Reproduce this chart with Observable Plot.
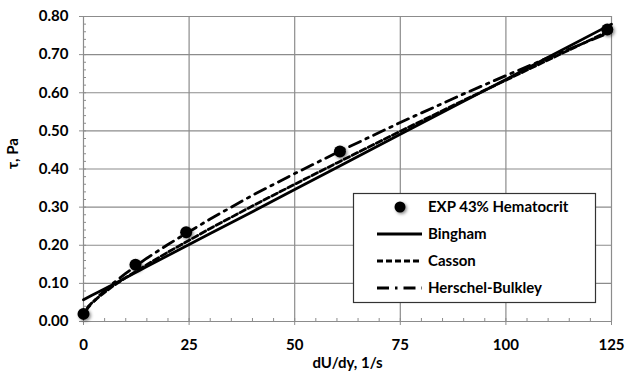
<!DOCTYPE html>
<html><head><meta charset="utf-8">
<script src="https://cdn.jsdelivr.net/npm/d3@7"></script>
<script src="https://cdn.jsdelivr.net/npm/@observablehq/plot@0.6"></script>
<style>body{margin:0;background:#fff} svg{font-family:Lato,sans-serif}</style>
</head><body><div id="chart"></div>
<script>
const expShear  = [0, 12.3, 24.3, 60.7, 124];
const expStress = [0.02, 0.149, 0.234, 0.446, 0.766];
// Model curves
const modelShear    = [0, 1, 2, 4, 7, 10, 15, 20, 30, 40, 50, 60, 75, 90, 100, 110, 125];
const binghamStress = [0.057, 0.063, 0.069, 0.080, 0.097, 0.115, 0.144, 0.173, 0.231, 0.288, 0.346, 0.404, 0.491, 0.578, 0.635, 0.693, 0.780];
const cassonStress  = [0.016, 0.038, 0.049, 0.068, 0.093, 0.115, 0.149, 0.182, 0.244, 0.303, 0.360, 0.416, 0.499, 0.580, 0.633, 0.686, 0.765];
const hbStress      = [0.015, 0.035, 0.048, 0.071, 0.100, 0.126, 0.166, 0.202, 0.269, 0.331, 0.388, 0.443, 0.522, 0.597, 0.645, 0.692, 0.760];
// Ticks
const xTicks = [0, 25, 50, 75, 100, 125];
const xMinor = d3.range(0, 126, 5);
const yTicks = [0, 0.1, 0.2, 0.3, 0.4, 0.5, 0.6, 0.7, 0.8];
const yMinor = d3.range(0, 41).map(i => i * 0.02);
const legendItems = ["EXP 43% Hematocrit", "Bingham", "Casson", "Herschel-Bulkley"];

const expData = expShear.map((x, i) => ({x, y: expStress[i]}));
const mk = arr => modelShear.map((x, i) => ({x, y: arr[i]}));
const grid = "#8c8c8c";
const FS = 15;

const plot = Plot.plot({
  width: 625, height: 383,
  marginLeft: 83, marginRight: 14, marginTop: 16, marginBottom: 62,
  x: {domain: [0, 125]},
  y: {domain: [0, 0.8]},
  style: {fontFamily: "Lato, sans-serif", fontWeight: "bold", fontSize: FS + "px", color: "#000", background: "#fff"},
  marks: [
    Plot.gridY(yTicks.slice(1), {stroke: grid, strokeOpacity: 1, strokeWidth: 1.2}),
    Plot.gridX(xTicks.slice(1), {stroke: grid, strokeOpacity: 1, strokeWidth: 1.2}),
    Plot.ruleX([0], {stroke: grid, strokeWidth: 1.2}),
    Plot.ruleY([0], {stroke: grid, strokeWidth: 1.2}),
    Plot.axisY(yTicks, {anchor: "left", tickSize: 4, tickPadding: 11, tickFormat: d3.format(".2f"), label: null, stroke: grid, fill: "#000", fontSize: FS}),
    Plot.axisY(yMinor, {anchor: "left", tickSize: -3, tickFormat: () => "", label: null, stroke: grid}),
    Plot.axisX(xTicks, {anchor: "bottom", tickSize: 4, tickPadding: 14, tickFormat: d => d, label: null, stroke: grid, fill: "#000", fontSize: FS}),
    Plot.axisX(xMinor, {anchor: "bottom", tickSize: -3, tickFormat: () => "", label: null, stroke: grid}),
    Plot.text(["τ, Pa"], {frameAnchor: "left", rotate: -90, dx: -70, fontSize: FS, fontWeight: "bold"}),
    Plot.text(["dU/dy, 1/s"], {frameAnchor: "bottom", dy: 46, fontSize: FS, fontWeight: "bold"}),
    Plot.line(mk(binghamStress), {x: "x", y: "y", stroke: "#000", strokeWidth: 2.8}),
    Plot.line(mk(cassonStress), {x: "x", y: "y", stroke: "#000", strokeWidth: 2.8, strokeDasharray: "6,3"}),
    Plot.line(mk(hbStress), {x: "x", y: "y", stroke: "#000", strokeWidth: 2.8, strokeDasharray: "12,6,2.5,6"}),
    Plot.dot(expData, {x: "x", y: "y", r: 6, fill: "#000", stroke: "none"})
  ]
});
document.getElementById("chart").appendChild(plot);

const svg = d3.select(plot);
const defs = svg.append("defs");
const f = defs.append("filter").attr("id", "shadow").attr("x", "-50%").attr("y", "-50%").attr("width", "200%").attr("height", "200%");
f.append("feDropShadow").attr("dx", 1.5).attr("dy", 1.5).attr("stdDeviation", 1.5).attr("flood-color", "#000").attr("flood-opacity", 0.45);
svg.selectAll('g[aria-label="dot"]').attr("filter", "url(#shadow)");

// Legend
const lg = svg.append("g").attr("font-family", "Lato, sans-serif").attr("font-weight", "bold")
  .attr("font-size", FS).attr("text-anchor", "start");
lg.append("rect").attr("x", 353.5).attr("y", 193.5).attr("width", 242).attr("height", 109)
  .attr("fill", "#fff").attr("stroke", "#333").attr("stroke-width", 1.2);
const rowY = [207, 234, 261, 288];
legendItems.forEach((name, i) => {
  const y = rowY[i];
  if (i === 0) {
    lg.append("circle").attr("cx", 400).attr("cy", y).attr("r", 5.5).attr("fill", "#000").attr("filter", "url(#shadow)");
  } else {
    const l = lg.append("line").attr("x1", 377).attr("x2", 422).attr("y1", y).attr("y2", y)
      .attr("stroke", "#000").attr("stroke-width", 2.8);
    if (i === 2) l.attr("stroke-dasharray", "6,3");
    if (i === 3) l.attr("stroke-dasharray", "12,6,2.5,6");
  }
  lg.append("text").attr("x", 428).attr("y", y).attr("dy", "0.35em").attr("text-anchor", "start").text(name);
});
</script>
</body></html>
